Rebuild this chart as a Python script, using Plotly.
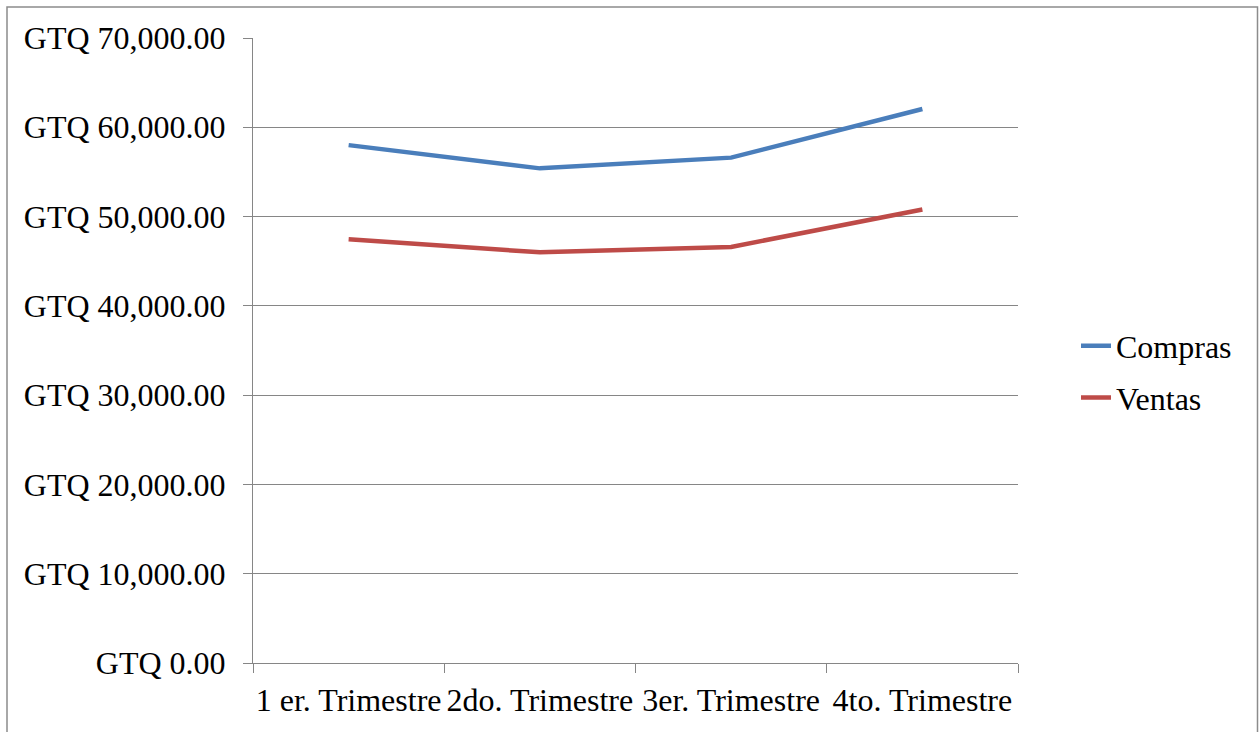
import plotly.graph_objects as go

categories = ["1 er. Trimestre", "2do. Trimestre", "3er. Trimestre", "4to. Trimestre"]
compras = [58000, 55400, 56600, 62050]
ventas = [47450, 46000, 46600, 50800]
y_ticks = [0, 10000, 20000, 30000, 40000, 50000, 60000, 70000]
y_tick_labels = ["GTQ " + f"{v:,.2f}" for v in y_ticks]

FONT = "Liberation Serif, Times New Roman, serif"
FS = 32
GRID = "#868686"

fig = go.Figure()
fig.add_trace(go.Scatter(x=categories, y=compras, name="Compras", mode="lines",
                         legendgroup="c", line=dict(color="#4A7EBB", width=4.5)))
fig.add_trace(go.Scatter(x=categories, y=ventas, name="Ventas", mode="lines",
                         legendgroup="v", line=dict(color="#BE4B48", width=4.5)))

W, H = 1259, 732
L, R, T, B = 253, 1018, 38, 663
fig.update_layout(
    width=W, height=H,
    margin=dict(l=L, r=W - R, t=T, b=H - B, pad=0, autoexpand=False),
    paper_bgcolor="white", plot_bgcolor="white",
    font=dict(family=FONT, size=FS, color="black"),
    showlegend=True,
    legend=dict(x=(1076 - L) / (R - L), xanchor="left", y=(B - 372) / (B - T), yanchor="middle",
                font=dict(family=FONT, size=FS, color="black"),
                bgcolor="rgba(0,0,0,0)", tracegroupgap=7, itemwidth=30),
    xaxis=dict(type="category", range=[-0.5, 3.5], showgrid=False,
               showline=True, linecolor=GRID, linewidth=1,
               ticks="outside", ticklen=9, tickcolor=GRID, tickwidth=1,
               tickson="boundaries", ticklabelstandoff=9, tickangle=0, automargin=False,
               tickfont=dict(family=FONT, size=FS, color="black")),
    yaxis=dict(range=[0, 70000], tickmode="array", tickvals=y_ticks, ticktext=y_tick_labels,
               showgrid=True, gridcolor=GRID, gridwidth=1,
               showline=True, linecolor=GRID, linewidth=1,
               ticks="outside", ticklen=9, tickcolor=GRID, tickwidth=1,
               zeroline=False, ticklabelstandoff=11, automargin=False,
               tickfont=dict(family=FONT, size=FS, color="black")),
    shapes=[dict(type="rect", xref="paper", yref="paper",
                 x0=(7 - L) / (R - L), x1=(1257.5 - L) / (R - L),
                 y0=(B - 745) / (B - T), y1=(B - 7) / (B - T),
                 line=dict(color="#8C8C8C", width=1.5), fillcolor="rgba(0,0,0,0)", layer="below")],
)

fig.write_html("out.html")
